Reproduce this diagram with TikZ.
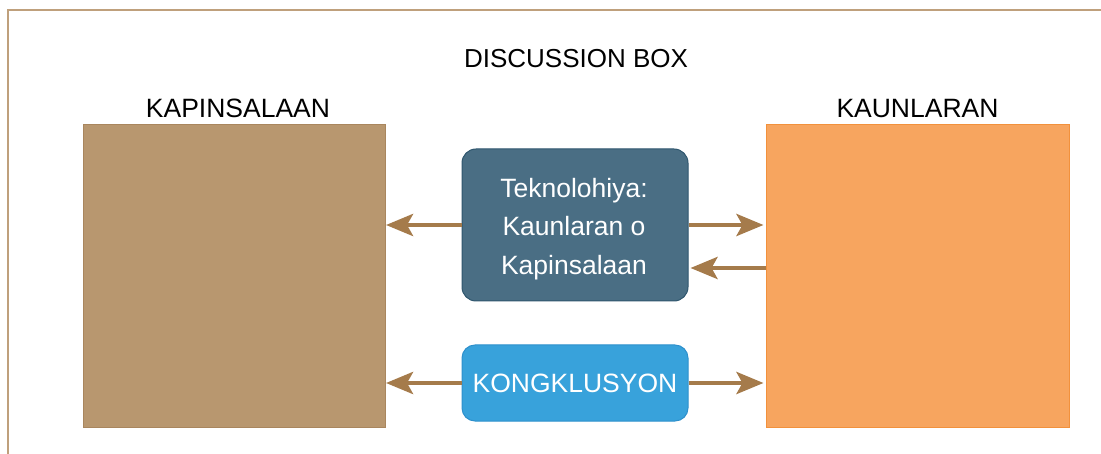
\documentclass[tikz,border=0pt]{standalone}
\usepackage{fontspec}
\setmainfont{Liberation Sans}
\usetikzlibrary{arrows.meta}
\definecolor{frameC}{HTML}{BFA07C}
\definecolor{kapC}{HTML}{B8976F}
\definecolor{kapB}{HTML}{A9865E}
\definecolor{kaunC}{HTML}{F7A55F}
\definecolor{kaunB}{HTML}{F2913C}
\definecolor{midC}{HTML}{4A6E84}
\definecolor{midB}{HTML}{2F566E}
\definecolor{kongC}{HTML}{38A2DB}
\definecolor{kongB}{HTML}{2E90CC}
\definecolor{arrC}{HTML}{A57B4B}
\tikzset{
  bigbox/.style={draw, line width=1pt, minimum width=302pt, minimum height=302pt, inner sep=0pt},
  rbox/.style={draw, line width=1pt, rounded corners=14pt, minimum width=226pt, inner sep=0pt, text=white, align=center},
  lbl/.style={anchor=base, font=\fontsize{26.5}{31}\selectfont, text=black, inner sep=0pt},
  arr/.style={draw=arrC, line width=4.5pt, -{Stealth[length=27pt, width=22pt, inset=6pt]}},
}
\begin{document}
\begin{tikzpicture}[x=1pt, y=-1pt]
\useasboundingbox (0,0) rectangle (1101,454);
\draw[frameC, line width=2pt] (1120,10) -- (8,10) -- (8,470);
\node[lbl, font=\fontsize{26}{31}\selectfont] (title) at (576,68) {DISCUSSION BOX};
\node[lbl] (kaplbl) at (238,118) {KAPINSALAAN};
\node[lbl] (kaunlbl) at (917.5,118) {KAUNLARAN};
\node[bigbox, fill=kapC, draw=kapB] (kap) at (234.5,276) {};
\node[bigbox, fill=kaunC, draw=kaunB, minimum width=303pt] (kaun) at (917.5,276) {};
\node[rbox, fill=midC, draw=midB, minimum height=152pt] (mid) at (575,225) {};
\node[text=white, align=center, inner sep=0pt, font=\fontsize{26.5}{38.5}\selectfont] (midtxt) at (574,229) {Teknolohiya:\\Kaunlaran o\\Kapinsalaan};
\node[rbox, fill=kongC, draw=kongB, minimum height=76pt, rounded corners=13pt, font=\fontsize{26.5}{31}\selectfont] (kong) at (575,383) {KONGKLUSYON};
\coordinate (ret) at (766,268);
\draw[arr] (mid.west) -- (kap.east |- mid.west);
\draw[arr, shorten >=2pt] (mid.east) -- (kaun.west |- mid.east);
\draw[arr, shorten >=2pt] (ret) -- (mid.east |- ret);
\draw[arr] (kong.west) -- (kap.east |- kong.west);
\draw[arr, shorten >=2pt] (kong.east) -- (kaun.west |- kong.east);
\end{tikzpicture}
\end{document}
